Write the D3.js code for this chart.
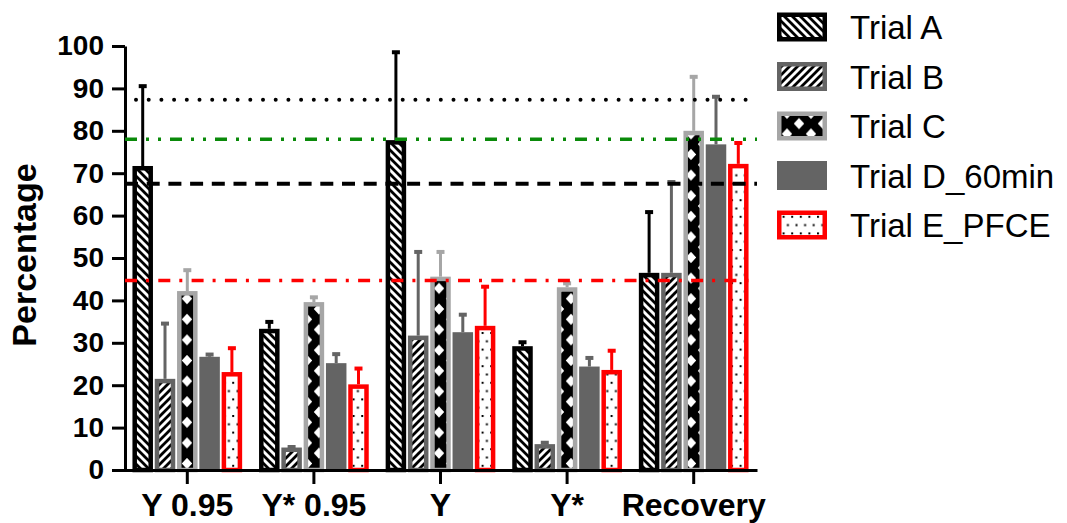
<!DOCTYPE html>
<html>
<head>
<meta charset="utf-8">
<script src="https://cdn.jsdelivr.net/npm/d3@7"></script>
<style>
  html, body { margin: 0; padding: 0; background: #fff; }
  svg { display: block; font-family: 'Liberation Sans', Arial, sans-serif; }
</style>
</head>
<body>
<div id="chart"></div>
<script>
const groups = ['Y 0.95', 'Y* 0.95', 'Y', 'Y*', 'Recovery']
const series = ['Trial A', 'Trial B', 'Trial C', 'Trial D_60min', 'Trial E_PFCE']

const trialA = [71.7, 33.3, 77.8, 29.2, 46.5]
const trialB = [21.5, 5.3, 31.7, 6.1, 46.5]
const trialC = [42.2, 39.6, 45.6, 43.1, 80.0]
const trialD = [26.7, 25.2, 32.5, 24.4, 76.8]
const trialE = [23.1, 20.2, 34.0, 23.6, 72.2]

const errA = [19.3, 2.1, 21.2, 1.4, 14.8]
const errB = [13.5, 0.6, 20.2, 0.8, 21.9]
const errC = [5.4, 1.6, 6.3, 1.4, 13.2]
const errD = [1.0, 2.6, 4.6, 2.5, 11.7]
const errE = [6.1, 4.2, 9.7, 5.0, 5.4]

// horizontal reference levels
const refDotted = 87.3
const refGreen = 78.0
const refDashed = 67.5
const refRed = 44.7

const yTicks = [0, 10, 20, 30, 40, 50, 60, 70, 80, 90, 100]

const means = [trialA, trialB, trialC, trialD, trialE]
const errs = [errA, errB, errC, errD, errE]

const width = 1067
const height = 523

const styles = [
  { stroke: '#000000', sw: 4.5, fill: 'url(#pA)' },
  { stroke: '#646464', sw: 4.5, fill: 'url(#pB)' },
  { stroke: '#a6a6a6', sw: 4.5, fill: 'url(#pC)' },
  { stroke: '#646464', sw: 0, fill: '#646464' },
  { stroke: '#ff0000', sw: 4.5, fill: 'url(#pE)' }
]

const svg = d3.select('#chart').append('svg')
  .attr('width', width)
  .attr('height', height)

const defs = svg.append('defs')

// Trial A: back-slash stripes
const pA = defs.append('pattern').attr('id', 'pA').attr('patternUnits', 'userSpaceOnUse')
  .attr('width', 8).attr('height', 8)
pA.append('rect').attr('width', 8).attr('height', 8).attr('fill', '#fff')
pA.append('path').attr('d', 'M-4,4L4,12M0,0L8,8M4,-4L12,4')
  .attr('stroke', '#000').attr('stroke-width', 2.8)

// Trial B: forward-slash stripes
const pB = defs.append('pattern').attr('id', 'pB').attr('patternUnits', 'userSpaceOnUse')
  .attr('width', 8).attr('height', 8)
pB.append('rect').attr('width', 8).attr('height', 8).attr('fill', '#fff')
pB.append('path').attr('d', 'M-4,4L4,-4M0,8L8,0M4,12L12,4')
  .attr('stroke', '#000').attr('stroke-width', 2.8)

// Trial C: black with white diamonds
const cw = 24, ch = 20.6
const pC = defs.append('pattern').attr('id', 'pC').attr('patternUnits', 'userSpaceOnUse')
  .attr('width', cw).attr('height', ch).attr('x', 7)
pC.append('rect').attr('width', cw).attr('height', ch).attr('fill', '#000')
const diamond = (cx, cy) => `M${cx - 5.2},${cy}L${cx},${cy - 5.6}L${cx + 5.2},${cy}L${cx},${cy + 5.6}Z`
pC.append('path')
  .attr('d', [[0, 0], [cw, 0], [0, ch], [cw, ch], [cw / 2, ch / 2]].map(p => diamond(p[0], p[1])).join(''))
  .attr('fill', '#fff')

// Trial E: small dots
const pE = defs.append('pattern').attr('id', 'pE').attr('patternUnits', 'userSpaceOnUse')
  .attr('width', 8.6).attr('height', 16.6)
pE.append('rect').attr('width', 8.6).attr('height', 16.6).attr('fill', '#fff')
pE.append('rect').attr('x', 0).attr('y', 0).attr('width', 2).attr('height', 2).attr('fill', '#000')
pE.append('rect').attr('x', 4.3).attr('y', 8.3).attr('width', 2).attr('height', 2).attr('fill', '#000')

const y = d3.scaleLinear().domain([0, 100]).range([470, 46])
const x0 = d3.scaleBand().domain(groups).range([124, 757])
const x1 = d3.scaleBand().domain(series).range([0, x0.bandwidth()])
  .paddingInner(0.08).paddingOuter(0.379)

const plot = svg.append('g')

series.forEach((s, si) => {
  const st = styles[si]
  groups.forEach((g, gi) => {
    const v = means[si][gi]
    const e = errs[si][gi]
    const bx = x0(g) + x1(s)
    const bw = x1.bandwidth()
    const cx = bx + bw / 2
    const col = st.sw ? st.stroke : st.fill

    // error bar (upward only)
    plot.append('line')
      .attr('x1', cx).attr('x2', cx)
      .attr('y1', y(v)).attr('y2', y(v + e) + 2)
      .attr('stroke', col).attr('stroke-width', 3)
    plot.append('line')
      .attr('x1', cx - 4).attr('x2', cx + 4)
      .attr('y1', y(v + e) + 2).attr('y2', y(v + e) + 2)
      .attr('stroke', col).attr('stroke-width', 4)

    plot.append('rect')
      .attr('x', bx + st.sw / 2)
      .attr('y', y(v) + st.sw / 2)
      .attr('width', bw - st.sw)
      .attr('height', y(0) - y(v) - st.sw / 2)
      .attr('fill', st.fill)
      .attr('stroke', st.sw ? st.stroke : 'none')
      .attr('stroke-width', st.sw)
  })
})

// axes
const yAxis = svg.append('g')
  .attr('transform', 'translate(125,0)')
  .call(d3.axisLeft(y).tickValues(yTicks).tickSize(13).tickPadding(8).tickSizeOuter(0))
yAxis.selectAll('text').attr('font-size', 28).attr('font-weight', 'bold').attr('fill', '#000')
  .attr('font-family', "'Liberation Sans', Arial, sans-serif")

const xAxis = svg.append('g')
  .attr('transform', 'translate(0,470)')
  .call(d3.axisBottom(x0).tickSize(14).tickPadding(9).tickSizeOuter(0))
xAxis.selectAll('text').attr('font-size', 32).attr('font-weight', 'bold').attr('fill', '#000')
  .attr('font-family', "'Liberation Sans', Arial, sans-serif")

svg.selectAll('.domain, .tick line').attr('stroke', '#000').attr('stroke-width', 3)

svg.append('text')
  .attr('transform', 'translate(24,255) rotate(-90)')
  .attr('text-anchor', 'middle')
  .attr('dy', '0.36em')
  .attr('font-size', 34)
  .attr('font-weight', 'bold')
  .text('Percentage')

// reference lines on top of bars
const refs = [
  { v: refDotted, color: '#000', dash: '0 12.7', cap: 'round', w: 4 },
  { v: refGreen, color: '#0a8a0a', dash: '12 9 3 9 3 9', cap: 'butt', w: 3.5 },
  { v: refDashed, color: '#000', dash: '13 8.7', cap: 'butt', w: 4 },
  { v: refRed, color: '#ff0000', dash: '12 9 3 9.3', cap: 'butt', w: 3.5 }
]
refs.forEach(r => {
  svg.append('line')
    .attr('x1', r.cap === 'round' ? 136 : 125).attr('x2', 757)
    .attr('y1', y(r.v)).attr('y2', y(r.v))
    .attr('stroke', r.color)
    .attr('stroke-width', r.w)
    .attr('stroke-dasharray', r.dash)
    .attr('stroke-linecap', r.cap)
})

// legend
const legend = svg.append('g')
series.forEach((s, si) => {
  const st = styles[si]
  const cy = 27 + si * 49.5
  legend.append('rect')
    .attr('x', 777 + st.sw / 2)
    .attr('y', cy - 14.5 + st.sw / 2)
    .attr('width', 50 - st.sw)
    .attr('height', 29 - st.sw)
    .attr('fill', st.fill)
    .attr('stroke', st.sw ? st.stroke : 'none')
    .attr('stroke-width', st.sw)
  legend.append('text')
    .attr('x', 850)
    .attr('y', cy + 12)
    .attr('font-size', 33)
    .text(s)
})
</script>
</body>
</html>
